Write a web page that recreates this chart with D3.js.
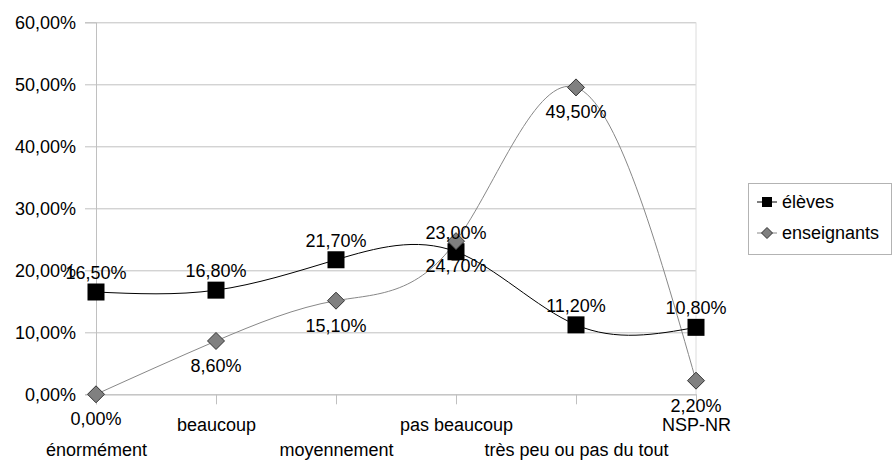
<!DOCTYPE html>
<html lang="fr">
<head>
<meta charset="UTF-8">
<title>élèves / enseignants</title>
<script src="https://d3js.org/d3.v7.min.js"></script>
<style>
  body { margin: 0; background: #fff; }
  svg { font-family: "Liberation Sans", Arial, sans-serif; }
</style>
</head>
<body>
<svg id="chart"></svg>
<script>
const categories = ["énormément", "beaucoup", "moyennement", "pas beaucoup", "très peu ou pas du tout", "NSP-NR"];
const eleves = [16.5, 16.8, 21.7, 23.0, 11.2, 10.8];
const enseignants = [0.0, 8.6, 15.1, 24.7, 49.5, 2.2];
const yTicks = [0, 10, 20, 30, 40, 50, 60];
const seriesNames = ["élèves", "enseignants"];

const width = 893, height = 461;
const margin = {top: 22.3, left: 96, right: 197, bottom: 66.7};
const fmt = v => d3.format(".2f")(v).replace(".", ",") + "%";

const svg = d3.select("#chart").attr("width", width).attr("height", height);

const x = d3.scalePoint().domain(categories).range([margin.left, width - margin.right]);
const y = d3.scaleLinear().domain([0, 60]).range([height - margin.bottom, margin.top]);
const plotW = width - margin.right - margin.left;

// gridlines
svg.append("g")
  .attr("transform", `translate(${margin.left},0)`)
  .call(d3.axisLeft(y).tickValues(yTicks).tickSize(-plotW).tickFormat(""))
  .call(g => g.select(".domain").remove())
  .call(g => g.selectAll("line").attr("stroke", "#c0c0c0"));

// y axis
svg.append("g")
  .attr("transform", `translate(${margin.left},0)`)
  .call(d3.axisLeft(y).tickValues(yTicks).tickSize(11).tickPadding(9).tickFormat(fmt))
  .call(g => g.select(".domain").attr("stroke", "#c0c0c0"))
  .call(g => g.selectAll("line").attr("stroke", "#c0c0c0"))
  .call(g => g.selectAll("text").attr("font-size", 18).attr("fill", "#000").attr("dy", "0.36em"));

// right border
svg.append("line")
  .attr("x1", width - margin.right).attr("x2", width - margin.right)
  .attr("y1", margin.top).attr("y2", height - margin.bottom)
  .attr("stroke", "#dcdcdc");

// x axis
svg.append("g")
  .attr("transform", `translate(0,${height - margin.bottom})`)
  .call(d3.axisBottom(x).tickSize(10))
  .call(g => g.select(".domain").attr("stroke", "#c0c0c0"))
  .call(g => g.selectAll("line").attr("stroke", "#c0c0c0"))
  .call(g => g.selectAll("text")
    .attr("font-size", 18).attr("fill", "#000").attr("dy", 0)
    .attr("y", (d, i) => i % 2 === 0 ? 62 : 37));

const line = d3.line()
  .x((d, i) => x(categories[i]))
  .y(d => y(d))
  .curve(d3.curveNatural);

svg.append("path").datum(enseignants)
  .attr("d", line).attr("fill", "none").attr("stroke", "#888").attr("stroke-width", 1);
svg.append("path").datum(eleves)
  .attr("d", line).attr("fill", "none").attr("stroke", "#000").attr("stroke-width", 1);

// markers
const sq = 17, dm = 8.5;
svg.append("g").selectAll("rect").data(eleves).join("rect")
  .attr("x", (d, i) => x(categories[i]) - sq / 2)
  .attr("y", d => y(d) - sq / 2)
  .attr("width", sq).attr("height", sq)
  .attr("fill", "#000");

const diamond = `M0,${-dm}L${dm},0L0,${dm}L${-dm},0Z`;
svg.append("g").selectAll("path").data(enseignants).join("path")
  .attr("transform", (d, i) => `translate(${x(categories[i])},${y(d)})`)
  .attr("d", diamond)
  .attr("fill", "#808080").attr("stroke", "#333").attr("stroke-width", 1);

// data labels
svg.append("g").selectAll("text").data(eleves).join("text")
  .attr("x", (d, i) => x(categories[i]))
  .attr("y", d => y(d) - 13)
  .attr("text-anchor", "middle").attr("font-size", 18)
  .text(fmt);
svg.append("g").selectAll("text").data(enseignants).join("text")
  .attr("x", (d, i) => x(categories[i]))
  .attr("y", d => y(d) + 31)
  .attr("text-anchor", "middle").attr("font-size", 18)
  .text(fmt);

// legend
const lg = svg.append("g");
lg.append("rect")
  .attr("x", 748.5).attr("y", 183.5).attr("width", 143).attr("height", 71)
  .attr("fill", "#fff").attr("stroke", "#b3b3b3");
seriesNames.forEach((name, i) => {
  const cy = 202 + i * 31;
  lg.append("line").attr("x1", 757).attr("x2", 777).attr("y1", cy).attr("y2", cy)
    .attr("stroke", i === 0 ? "#000" : "#888");
  if (i === 0) {
    lg.append("rect").attr("x", 762).attr("y", cy - 5).attr("width", 10).attr("height", 10).attr("fill", "#000");
  } else {
    lg.append("path").attr("transform", `translate(767,${cy})`)
      .attr("d", "M0,-5.5L5.5,0L0,5.5L-5.5,0Z")
      .attr("fill", "#808080").attr("stroke", "#333");
  }
  lg.append("text").attr("x", 782).attr("y", cy).attr("dy", "0.36em")
    .attr("font-size", 18).text(name);
});
</script>
</body>
</html>
